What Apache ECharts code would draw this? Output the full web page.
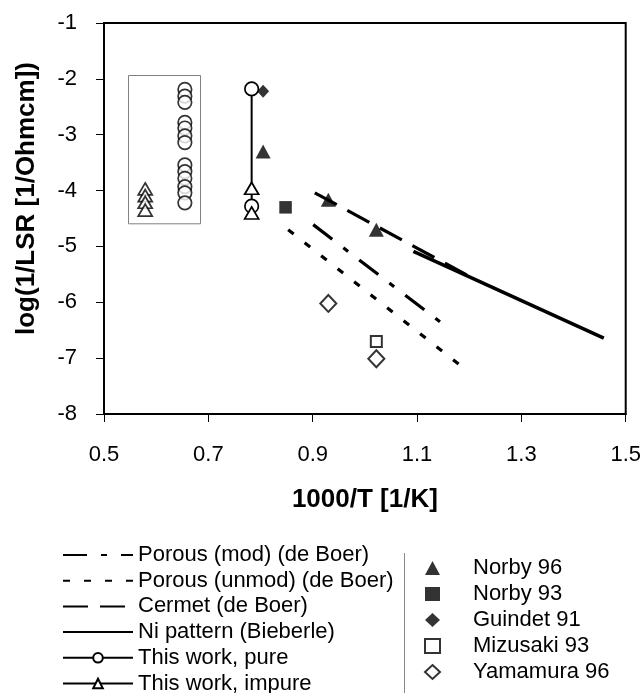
<!DOCTYPE html>
<html><head><meta charset="utf-8">
<script src="https://cdn.jsdelivr.net/npm/echarts@6/dist/echarts.min.js"></script>
<style>html,body{margin:0;padding:0;background:#fff}#c{width:644px;height:693px}</style>
</head><body><div id="c"></div>
<script>
// ---- data ----
const xTicks = [0.5, 0.7, 0.9, 1.1, 1.3, 1.5];

const porousModX = [0.901, 1.144];
const porousModY = [-4.61, -6.35];
const porousUnmodX = [0.853, 1.198];
const porousUnmodY = [-4.70, -7.24];
const cermetX = [0.904, 1.195];
const cermetY = [-4.04, -5.51];
const niX = [1.093, 1.458];
const niY = [-5.09, -6.64];

const pureX = [0.783, 0.783];
const pureY = [-2.18, -4.28];
const impureX = [0.783, 0.783];
const impureY = [-3.96, -4.40];

const pureBoxX = [0.655, 0.655, 0.655, 0.655, 0.655, 0.655, 0.655, 0.655, 0.655, 0.655, 0.655, 0.655, 0.655];
const pureBoxY = [-2.19, -2.31, -2.42, -2.78, -2.88, -3.02, -3.14, -3.54, -3.66, -3.78, -3.93, -4.04, -4.22];
const impureBoxX = [0.579, 0.579, 0.579, 0.579];
const impureBoxY = [-3.97, -4.09, -4.21, -4.35];
const boxCorners = [[0.547, -1.94], [0.685, -4.595]];

const norby96X = [0.805, 0.930, 1.022];
const norby96Y = [-3.30, -4.165, -4.70];
const norby93X = [0.848];
const norby93Y = [-4.30];
const guindet91X = [0.805];
const guindet91Y = [-2.22];
const mizusaki93X = [1.022];
const mizusaki93Y = [-6.70];
const yamamura96X = [0.930, 1.022];
const yamamura96Y = [-6.02, -7.01];

// ---- chart ----
function pts(xs, ys) { return xs.map((x, i) => [x, ys[i]]); }
const FONT = "'Liberation Sans', Arial, sans-serif";
const K = '#000';

const lineNames = ['Porous (mod) (de Boer)', 'Porous (unmod) (de Boer)', 'Cermet (de Boer)', 'Ni pattern (Bieberle)', 'This work, pure', 'This work, impure'];
const scatterNames = ['Norby 96', 'Norby 93', 'Guindet 91', 'Mizusaki 93', 'Yamamura 96'];

const openStyle = { color: '#fff', borderColor: K, borderWidth: 1.7 };

const series = [
  { name: lineNames[0], type: 'line', symbol: 'none', data: pts(porousModX, porousModY),
    lineStyle: { color: K, width: 3.2, type: [24, 14, 6, 14] }, itemStyle: { color: K } },
  { name: lineNames[1], type: 'line', symbol: 'none', data: pts(porousUnmodX, porousUnmodY),
    lineStyle: { color: K, width: 3.2, type: [7, 14] }, itemStyle: { color: K } },
  { name: lineNames[2], type: 'line', symbol: 'none', data: pts(cermetX, cermetY),
    lineStyle: { color: K, width: 3.2, type: [25, 12] }, itemStyle: { color: K } },
  { name: lineNames[3], type: 'line', symbol: 'none', data: pts(niX, niY),
    lineStyle: { color: K, width: 3.5, type: 'solid' }, itemStyle: { color: K } },
  { name: 'pure-box', type: 'scatter', symbol: 'circle', symbolSize: 13.5, data: pts(pureBoxX, pureBoxY),
    itemStyle: openStyle,
    markArea: { silent: true, itemStyle: { color: 'rgba(0,0,0,0)', borderColor: '#808080', borderWidth: 1 },
      data: [[{ coord: boxCorners[0] }, { coord: boxCorners[1] }]] } },
  { name: 'impure-box', type: 'scatter', symbol: 'triangle', symbolSize: [14, 12], data: pts(impureBoxX, impureBoxY),
    itemStyle: openStyle },
  { name: lineNames[4], type: 'line', symbol: 'circle', symbolSize: 13.5, showAllSymbol: true, data: pts(pureX, pureY),
    lineStyle: { color: K, width: 2 }, itemStyle: openStyle },
  { name: lineNames[5], type: 'line', symbol: 'triangle', symbolSize: [14, 12], showAllSymbol: true, data: pts(impureX, impureY),
    lineStyle: { color: K, width: 1 }, itemStyle: openStyle },
  { name: scatterNames[0], type: 'scatter', symbol: 'triangle', symbolSize: [15, 14], data: pts(norby96X, norby96Y),
    itemStyle: { color: K } },
  { name: scatterNames[1], type: 'scatter', symbol: 'rect', symbolSize: 12.5, data: pts(norby93X, norby93Y),
    itemStyle: { color: K } },
  { name: scatterNames[2], type: 'scatter', symbol: 'diamond', symbolSize: [12, 13], data: pts(guindet91X, guindet91Y),
    itemStyle: { color: K } },
  { name: scatterNames[3], type: 'scatter', symbol: 'rect', symbolSize: 11, data: pts(mizusaki93X, mizusaki93Y),
    itemStyle: { color: '#fff', borderColor: K, borderWidth: 2 } },
  { name: scatterNames[4], type: 'scatter', symbol: 'diamond', symbolSize: [16, 17], data: pts(yamamura96X, yamamura96Y),
    itemStyle: { color: '#fff', borderColor: K, borderWidth: 2 } }
];
series.forEach(s => { s.animation = false; s.silent = true; });

const chart = echarts.init(document.getElementById('c'), null, { renderer: 'canvas' });
chart.setOption({
  backgroundColor: '#fff',
  animation: false,
  textStyle: { fontFamily: FONT, color: K },
  grid: { left: 104, right: 18, top: 23, bottom: 279, show: true, borderColor: K, borderWidth: 2, backgroundColor: 'rgba(0,0,0,0)' },
  xAxis: {
    type: 'value', min: 0.5, max: 1.5,
    axisLine: { show: true, onZero: false, lineStyle: { color: K, width: 2 } },
    axisTick: { show: true, customValues: xTicks, length: 8, lineStyle: { color: K, width: 1 } },
    axisLabel: { customValues: xTicks, formatter: v => Number(v).toFixed(1), fontSize: 22, color: K, margin: 30, fontFamily: FONT },
    splitLine: { show: false },
    name: '1000/T [1/K]', nameLocation: 'middle', nameGap: 73,
    nameTextStyle: { fontSize: 26, fontWeight: 'bold', color: K, fontFamily: FONT }
  },
  yAxis: {
    type: 'value', min: -8, max: -1, interval: 1,
    axisLine: { show: true, onZero: false, lineStyle: { color: K, width: 2 } },
    axisTick: { show: true, length: 8, lineStyle: { color: K, width: 1 } },
    axisLabel: { fontSize: 22, color: K, margin: 27, fontFamily: FONT },
    splitLine: { show: false },
    name: 'log(1/LSR [1/Ohmcm])', nameLocation: 'middle', nameGap: 64,
    nameTextStyle: { fontSize: 26, fontWeight: 'bold', color: K, fontFamily: FONT, padding: [0, 0, 0, 40] }
  },
  legend: [
    { orient: 'vertical', left: 62, top: 544, height: 220, padding: 0, itemWidth: 70, itemHeight: 12, itemGap: 3.7,
      selectedMode: false,
      textStyle: { fontSize: 22, lineHeight: 22, color: K, fontFamily: FONT },
      data: lineNames.map((n, i) => i < 4 ? { name: n, itemStyle: { opacity: 0 } } : { name: n }) },
    { orient: 'vertical', left: 424, top: 557, height: 200, padding: 0, itemWidth: 15, itemHeight: 14, itemGap: 4,
      selectedMode: false,
      textStyle: { fontSize: 22, lineHeight: 22, color: K, fontFamily: FONT, padding: [0, 0, 0, 28] },
      data: scatterNames }
  ],
  graphic: [
    { type: 'line', silent: true, shape: { x1: 404.5, y1: 553, x2: 404.5, y2: 693 }, style: { stroke: '#888', lineWidth: 1 } }
  ],
  series: series
});
</script>
</body></html>
